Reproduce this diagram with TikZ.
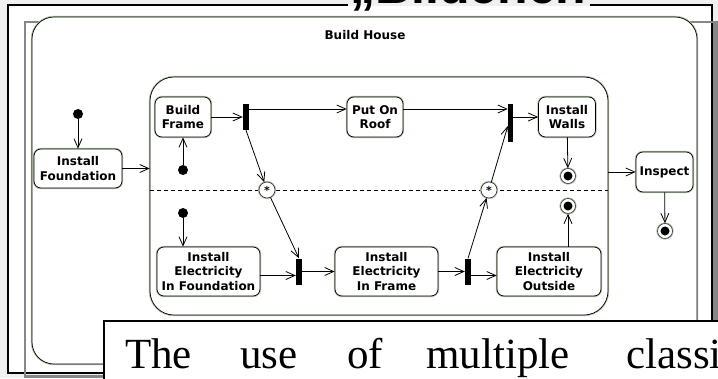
\documentclass[tikz,border=0pt]{standalone}
\usepackage{fontspec}
\newfontfamily\uifont{DejaVu Sans}
\newfontfamily\headfont{Liberation Sans}
\newfontfamily\bodyfont{Liberation Serif}
\usetikzlibrary{arrows.meta}
\definecolor{halo}{RGB}{172,196,160}
\definecolor{pagegray}{RGB}{240,240,240}
\definecolor{shadegray}{RGB}{135,135,135}

\begin{document}
\begin{tikzpicture}[
      x=1pt, y=-1pt,
      state/.style={draw=black, line width=0.7pt, fill=white, rounded corners=7pt,
        align=center, inner sep=0pt, font=\uifont\bfseries\fontsize{12}{14.5}\selectfont,
        preaction={draw=halo, line width=2.4pt}},
      init/.style={circle, fill=black, minimum size=10pt, inner sep=0pt},
      final/.style={circle, draw=black!80, line width=0.6pt, fill=white, minimum size=15pt, inner sep=0pt,
        preaction={draw=halo, line width=2.2pt},
        path picture={\fill[black] (path picture bounding box.center) circle (4.5pt);}},
      sync/.style={circle, draw=black!80, line width=0.6pt, fill=white, minimum size=16pt, inner sep=0pt,
        preaction={draw=halo, line width=2.2pt}, font=\uifont\bfseries\fontsize{11}{11}\selectfont},
      bar/.style={fill=black, minimum width=6pt, minimum height=26pt, inner sep=0pt},
      arr/.style={draw, line width=0.8pt, -{Straight Barb[length=9pt,width=8pt]}},
      bodytext/.style={font=\bodyfont\fontsize{43}{43}\selectfont, anchor=base west, inner sep=0pt}
      ]
      \useasboundingbox (0,0) rectangle (718,378);
      \clip (0,0) rectangle (718,378);
      % screen around the slide
      \fill[pagegray] (0,0) rectangle (718,378);
      \draw[line width=1.5pt, fill=white] (8,5) rectangle (712,373);
      \draw[shadegray, line width=1.2pt] (25,378) -- (25,22) -- (718,22);
      \fill[shadegray] (713,22.6) rectangle (718,378);
      \fill[shadegray] (25,374.5) rectangle (104,378);
      \fill[pagegray] (348,0) rectangle (590,5.8);
      \node[font=\headfont\bfseries\fontsize{50}{50}\selectfont, anchor=base west, inner sep=0pt] (head) at (350,3.5) {„Bildchen};

      % composite states
      \node[state, minimum width=665pt, minimum height=347pt, rounded corners=22pt] (house) at (364.5,190.5) {};
      \node[font=\uifont\bfseries\fontsize{12}{14}\selectfont] (houselbl) at (365,35) {Build House};
      \node[state, minimum width=458pt, minimum height=238pt, rounded corners=24pt] (comp) at (379,196) {};
      \draw[line width=0.8pt, dash pattern=on 4pt off 3pt] ([yshift=6pt]comp.west) -- ([yshift=6pt]comp.east);

      % upper region
      \node[init] (i0) at (78,114) {};
      \node[state, minimum width=88pt, minimum height=39pt] (found) at (78,168.5) {Install\\Foundation};
      \node[state, minimum width=56pt, minimum height=40pt] (frame) at (183,117) {Build\\Frame};
      \node[init] (i1) at (183,170) {};
      \node[bar] (fk1) at (246,117) {};
      \node[state, minimum width=56pt, minimum height=40pt] (roof) at (375,117) {Put On\\Roof};
      \node[bar, minimum width=5pt, minimum height=38pt] (jn1) at (510.5,123) {};
      \node[state, minimum width=57pt, minimum height=40pt] (walls) at (567,117) {Install\\Walls};
      \node[final] (fw) at (568,176) {};
      \node[sync] (s1) at (267,190) {*};
      \node[sync] (s2) at (489,190) {*};

      % lower region
      \node[init] (i2) at (183,213) {};
      \node[state, minimum width=103pt, minimum height=49pt] (eFound) at (208.5,271.5) {Install\\Electricity\\In Foundation};
      \node[bar] (jn2) at (299,271.5) {};
      \node[state, minimum width=103pt, minimum height=49pt] (eFrame) at (386.5,271.5) {Install\\Electricity\\In Frame};
      \node[bar] (fk2) at (468,271.5) {};
      \node[state, minimum width=104pt, minimum height=49pt] (eOut) at (549,271.5) {Install\\Electricity\\Outside};
      \node[final] (fo) at (568,206) {};

      \node[state, minimum width=57pt, minimum height=40pt] (insp) at (664.5,172) {Inspect};
      \node[final] (fi) at (665,231) {};

      % transitions
      \draw[arr] (i0) -- (found);
      \draw[arr] (found.east) -- (found.east -| comp.west);
      \draw[arr] (i1) -- (frame);
      \draw[arr] (frame) -- (fk1);
      \draw[arr] ([yshift=8pt]fk1.east) -- ([yshift=8pt]roof.west);
      \draw[arr] ([yshift=8pt]roof.east) -- ([yshift=14pt]jn1.west);
      \draw[arr] ([yshift=6pt]jn1.east) -- (walls.west);
      \draw[arr] (walls) -- (fw);
      \draw[arr] (fk1.south) -- (s1);
      \draw[arr] (s1) -- (jn2.north);
      \draw[arr] (i2) -- (i2 |- eFound.north);
      \draw[arr] ([yshift=-4pt]eFound.east) -- ([yshift=-4pt]jn2.west);
      \draw[arr] (jn2) -- (eFrame);
      \draw[arr] (eFrame) -- (fk2);
      \draw[arr] (fk2.north) -- (s2);
      \draw[arr] (s2) -- ([yshift=-3pt]jn1.west);
      \draw[arr] ([yshift=-4pt]fk2.east) -- ([yshift=-4pt]eOut.west);
      \draw[arr] (eOut.north -| fo) -- (fo);
      \draw[arr] (insp.west -| comp.east) -- (insp);
      \draw[arr] (insp) -- (fi);

      % text box of the slide
      \draw[line width=1.2pt, fill=white] (104,321) rectangle (740,400);
      \foreach \w/\x in {The/125, use/240, of/347, multiple/426, classi/626}
        \node[bodytext] (w\x) at (\x,368) {\w};
    \end{tikzpicture}
\end{document}
